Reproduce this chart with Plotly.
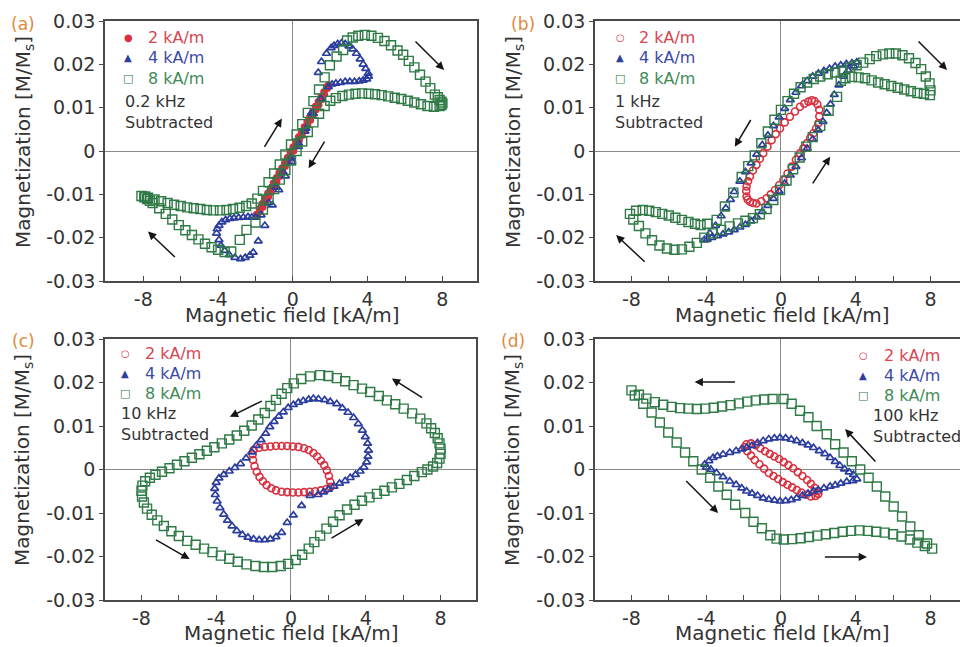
import plotly.graph_objects as go

# ---------------- data ----------------
# Panel (a) 0.2 kHz
A_RED_H = [-1.94,-1.8,-1.65,-1.5,-1.35,-1.2,-1.05,-0.9,-0.75,-0.6,-0.45,-0.3,-0.15,0,0.15,0.3,0.45,0.6,0.75,0.9,1.05,1.2,1.35,1.5,1.65,1.8,1.9,
           1.85,1.7,1.55,1.4,1.25,1.1,0.95,0.8,0.65,0.5,0.35,0.2,0.05,-0.1,-0.25,-0.4,-0.55,-0.7,-0.85,-1.0,-1.15,-1.3,-1.45,-1.6,-1.75,-1.9]
A_RED_M = [-0.0146,-0.0133,-0.0121,-0.0109,-0.0097,-0.0086,-0.0074,-0.0062,-0.005,-0.0039,-0.0027,-0.0015,-0.0003,0.0009,0.0021,0.0033,0.0044,0.0056,0.0068,0.0079,0.0091,0.0103,0.0114,0.0126,0.0137,0.0148,0.0153,
           0.0144,0.0131,0.0119,0.0107,0.0095,0.0083,0.0071,0.006,0.0048,0.0036,0.0024,0.0012,0.0,-0.0012,-0.0024,-0.0036,-0.0047,-0.0059,-0.0071,-0.0083,-0.0095,-0.0106,-0.0118,-0.013,-0.0141,-0.015]
A_BLUE_H = [-4.08,-3.95,-3.85,-3.65,-3.4,-3.1,-2.8,-2.55,-2.3,-2.12,-1.85,-1.5,-1.1,-0.75,-0.4,-0.05,0.3,0.65,1.0,1.36,1.53,1.8,2.05,2.2,2.4,2.6,2.8,3.0,3.2,3.4,3.6,3.76,3.9,4.03,4.05,
            3.95,3.76,3.55,3.3,3.05,2.8,2.55,2.3,2.1,1.9,1.5,1.1,0.7,0.3,-0.1,-0.5,-0.9,-1.3,-1.7,-2.0,-2.2,-2.4,-2.65,-2.9,-3.15,-3.37,-3.6,-3.8,-3.95,-4.05]
A_BLUE_M = [-0.019,-0.0205,-0.0218,-0.023,-0.024,-0.0246,-0.0249,-0.0246,-0.0241,-0.0234,-0.0208,-0.0172,-0.0125,-0.009,-0.0058,-0.0025,0.001,0.0045,0.0088,0.0181,0.0206,0.0225,0.0238,0.0243,0.0247,0.0249,0.0247,0.0242,0.0235,0.0225,0.0212,0.02,0.019,0.0179,0.0172,
            0.0166,0.0163,0.0161,0.016,0.016,0.016,0.0158,0.0156,0.0154,0.0148,0.012,0.0086,0.0052,0.0018,-0.0016,-0.005,-0.0084,-0.012,-0.0148,-0.0153,-0.0153,-0.0152,-0.0153,-0.0154,-0.0155,-0.0156,-0.0159,-0.0164,-0.0172,-0.018]
A_GREEN_H = [-8.1,-7.9,-7.75,-7.4,-7.05,-6.7,-6.35,-6.0,-5.65,-5.3,-4.95,-4.6,-4.25,-3.9,-3.55,-3.2,-2.85,-2.5,-2.2,
             -1.9,-1.6,-1.3,-1.0,-0.7,-0.4,-0.1,0.2,0.5,0.8,1.1,1.4,1.7,1.98,2.34,2.69,
             2.9,3.2,3.5,3.85,4.2,4.55,4.9,5.25,5.6,5.9,6.2,6.5,6.8,7.1,7.35,7.6,7.75,7.85,7.95,8.0,
             7.95,7.85,7.55,7.2,6.85,6.5,6.15,5.8,5.45,5.1,4.75,4.4,4.05,3.7,3.35,3.0,2.65,2.3,2.0,
             1.7,1.4,1.1,0.8,0.5,0.2,-0.1,-0.4,-0.7,-1.0,-1.3,-1.6,-2.0,-2.48,-2.84,
             -3.3,-3.65,-4.0,-4.35,-4.7,-5.05,-5.4,-5.75,-6.1,-6.45,-6.8,-7.15,-7.5,-7.65,-7.8,-7.95]
A_GREEN_M = [-0.0104,-0.0105,-0.0108,-0.0112,-0.0116,-0.012,-0.0124,-0.0127,-0.013,-0.0132,-0.0134,-0.0136,-0.0137,-0.0137,-0.0136,-0.0134,-0.0131,-0.0127,-0.0121,
             -0.011,-0.0092,-0.0072,-0.0052,-0.0031,-0.0008,0.0015,0.0038,0.0062,0.0088,0.0115,0.0142,0.017,0.0198,0.0218,0.0233,
             0.0255,0.0262,0.0266,0.0268,0.0266,0.0261,0.0254,0.0244,0.0232,0.0222,0.0208,0.0193,0.0176,0.016,0.0145,0.013,0.0124,0.0118,0.0114,0.011,
             0.0106,0.0104,0.0102,0.0104,0.0108,0.0112,0.0116,0.012,0.0123,0.0126,0.0129,0.0131,0.0132,0.0133,0.0132,0.013,0.0127,0.0122,0.0116,
             0.0104,0.0086,0.0066,0.0044,0.0022,0.0,-0.0022,-0.0044,-0.0066,-0.0088,-0.011,-0.0135,-0.0165,-0.0182,-0.0205,
             -0.0232,-0.0233,-0.0228,-0.0222,-0.0214,-0.0204,-0.0194,-0.0183,-0.0171,-0.0158,-0.0145,-0.0132,-0.012,-0.0115,-0.0111,-0.0107]

# Panel (b) 1 kHz
B_RED_H = [-1.84,-1.86,-1.84,-1.76,-1.66,-1.5,-1.31,-1.13,-0.95,-0.72,-0.5,-0.28,-0.05,0.2,0.48,0.75,1.02,1.25,1.47,1.65,1.8,
           1.95,2.05,2.05,2.0,1.88,1.74,1.56,1.38,1.2,1.02,0.8,0.57,0.35,0.13,-0.1,-0.32,-0.55,-0.77,-1.05,-1.31,-1.5,-1.66,-1.78]
B_RED_M = [-0.0105,-0.0092,-0.0082,-0.007,-0.0059,-0.0045,-0.0032,-0.0018,-0.0005,0.001,0.0025,0.0039,0.0052,0.0066,0.0079,0.0091,0.0102,0.0109,0.0114,0.0117,0.0115,
           0.0108,0.0095,0.008,0.0064,0.0052,0.0041,0.003,0.0018,0.0006,-0.0005,-0.002,-0.0036,-0.0052,-0.0067,-0.0079,-0.009,-0.01,-0.0109,-0.0116,-0.0121,-0.012,-0.0117,-0.0112]
B_BLUE_H = [-4.1,-3.8,-3.5,-3.2,-2.95,-2.7,-2.5,-2.2,-1.9,-1.6,-1.3,-1.0,-0.7,-0.4,-0.1,0.2,0.5,0.8,1.1,1.4,1.7,2.0,2.3,2.6,2.9,3.2,3.5,3.8,4.06,
            3.9,3.6,3.35,3.1,2.85,2.65,2.45,2.25,2.0,1.7,1.4,1.1,0.8,0.5,0.2,-0.1,-0.4,-0.7,-1.0,-1.3,-1.6,-1.9,-2.2,-2.5,-2.8,-3.1,-3.4,-3.7,-3.95]
B_BLUE_M = [-0.0205,-0.019,-0.0172,-0.015,-0.0132,-0.0112,-0.0094,-0.007,-0.0048,-0.0028,-0.0008,0.0014,0.0036,0.0058,0.0078,0.0098,0.0118,0.0135,0.015,0.0162,0.0172,0.0179,0.0185,0.019,0.0195,0.0198,0.0201,0.0203,0.0205,
            0.0196,0.0186,0.0172,0.0152,0.013,0.0108,0.0088,0.0068,0.0048,0.0027,0.0006,-0.0016,-0.0036,-0.0056,-0.0075,-0.0093,-0.011,-0.0126,-0.014,-0.0152,-0.0162,-0.017,-0.0176,-0.0182,-0.0187,-0.0192,-0.0196,-0.02,-0.0204]
B_GREEN_H = [-8.08,-7.75,-7.4,-7.05,-6.7,-6.35,-6.0,-5.65,-5.3,-4.95,-4.6,-4.3,-3.95,-3.44,-3.0,-2.55,-2.1,-1.75,-1.4,-1.05,-0.7,-0.35,0.0,0.35,0.7,1.05,1.4,1.75,2.1,2.5,2.9,3.3,3.7,4.05,4.4,4.75,5.1,5.45,5.8,6.15,6.5,6.85,7.2,7.5,7.75,7.95,8.0,7.97,
             7.65,7.3,6.95,6.6,6.25,5.9,5.55,5.2,4.85,4.5,4.15,3.8,3.45,3.2,3.0,2.55,2.1,1.7,1.35,1.0,0.65,0.3,-0.05,-0.41,-0.77,-1.13,-1.5,-1.9,-2.3,-2.75,-3.2,-3.65,-4.1,-4.5,-4.9,-5.3,-5.7,-6.1,-6.5,-6.9,-7.25,-7.6,-7.9]
B_GREEN_M = [-0.0145,-0.0138,-0.0136,-0.0138,-0.0141,-0.0145,-0.0149,-0.0154,-0.0159,-0.0164,-0.0168,-0.0171,-0.0168,-0.0159,-0.0128,-0.0096,-0.006,-0.0035,-0.001,0.0018,0.0045,0.0072,0.0095,0.0115,0.0132,0.0147,0.0158,0.0166,0.0172,0.0177,0.0181,0.0186,0.0192,0.0198,0.0204,0.0212,0.0219,0.0223,0.0225,0.0225,0.0221,0.0214,0.0203,0.0189,0.0172,0.0156,0.014,0.0129,
             0.0132,0.0134,0.0138,0.0142,0.0146,0.015,0.0154,0.0158,0.0163,0.0168,0.017,0.0171,0.0168,0.0162,0.0125,0.0093,0.0058,0.0032,0.001,-0.0015,-0.0042,-0.0068,-0.009,-0.0113,-0.0134,-0.0146,-0.0155,-0.0161,-0.0167,-0.0174,-0.0182,-0.019,-0.02,-0.0212,-0.0221,-0.0227,-0.0228,-0.0225,-0.0218,-0.0206,-0.019,-0.0173,-0.0158]

# Panel (c) 10 kHz
C_RED_H = [-2.0,-1.7,-1.4,-1.1,-0.8,-0.5,-0.2,0.1,0.4,0.7,0.95,1.2,1.4,1.6,1.78,1.92,2.03,2.1,2.12,
           1.9,1.6,1.3,1.0,0.7,0.4,0.1,-0.2,-0.5,-0.8,-1.05,-1.3,-1.5,-1.68,-1.83,-1.95,-2.03,-2.05]
C_RED_M = [0.0045,0.005,0.0052,0.0053,0.0054,0.0054,0.0054,0.0053,0.0052,0.0049,0.0045,0.0038,0.003,0.002,0.001,-0.0002,-0.0015,-0.0028,-0.004,
           -0.0045,-0.0048,-0.005,-0.0051,-0.0052,-0.0053,-0.0053,-0.0052,-0.0051,-0.0048,-0.0043,-0.0036,-0.0027,-0.0017,-0.0005,0.0008,0.0022,0.0035]
C_BLUE_H = [1.47,1.8,2.1,2.45,2.75,3.05,3.35,3.6,3.82,3.98,4.1,4.15,4.12,4.05,3.9,3.7,3.45,3.17,2.9,2.6,2.3,2.0,1.74,1.45,1.02,0.57,0.13,-0.2,-0.5,
            -0.8,-1.1,-1.4,-1.7,-2.0,-2.3,-2.6,-2.9,-3.15,-3.4,-3.6,-3.8,-3.95,-4.05,-4.08,-4.0,-3.85,-3.6,-3.3,-3.0,-2.7,-2.4,-2.1,-1.85,-1.6,-1.35,-1.13,-0.9,-0.65,-0.41,-0.15,0.13,0.4,0.66,0.95,1.2]
C_BLUE_M = [0.0162,0.016,0.0156,0.0151,0.0141,0.0131,0.0119,0.0105,0.009,0.0075,0.006,0.0044,0.003,0.0017,0.0005,-0.0004,-0.0012,-0.0019,-0.0026,-0.0032,-0.0039,-0.0046,-0.0052,-0.0058,-0.006,-0.0083,-0.0105,-0.0122,-0.0145,
            -0.0155,-0.016,-0.0162,-0.0162,-0.016,-0.0156,-0.015,-0.0141,-0.013,-0.0117,-0.0103,-0.0088,-0.0073,-0.0058,-0.0044,-0.003,-0.002,-0.0012,-0.0004,0.0004,0.0013,0.0026,0.004,0.0055,0.0068,0.0083,0.0098,0.011,0.0122,0.0132,0.0142,0.0149,0.0154,0.0158,0.0161,0.0163]
C_GREEN_H = [1.02,1.56,2.0,2.45,2.9,3.35,3.8,4.24,4.7,5.13,5.58,6.03,6.48,6.92,7.25,7.5,7.7,7.85,7.95,8.0,8.0,7.95,7.82,7.6,7.3,7.0,6.6,6.2,5.8,5.4,5.0,4.6,4.2,3.8,3.4,3.0,2.6,2.25,1.9,1.56,1.25,0.95,0.6,0.25,
             -0.15,-0.55,-1.0,-1.45,-1.9,-2.38,-2.85,-3.3,-3.75,-4.2,-4.65,-5.1,-5.55,-6.0,-6.4,-6.8,-7.15,-7.45,-7.7,-7.87,-7.97,-8.0,-7.95,-7.8,-7.55,-7.25,-6.9,-6.5,-6.1,-5.7,-5.3,-4.9,-4.5,-4.1,-3.7,-3.3,-2.9,-2.5,-2.1,-1.75,-1.4,-1.1,-0.8,-0.5,-0.2,0.15,0.55]
C_GREEN_M = [0.0214,0.0217,0.0215,0.021,0.0203,0.0194,0.0186,0.0178,0.0169,0.0159,0.015,0.014,0.0129,0.0117,0.0106,0.0095,0.0084,0.0072,0.006,0.0048,0.0036,0.0025,0.0015,0.0007,0.0,-0.0006,-0.0015,-0.0024,-0.0033,-0.0041,-0.0049,-0.0056,-0.0064,-0.0072,-0.0081,-0.0092,-0.0105,-0.012,-0.0136,-0.0152,-0.0167,-0.0182,-0.0196,-0.0208,
             -0.0217,-0.0222,-0.0224,-0.0224,-0.0222,-0.0218,-0.0212,-0.0205,-0.0198,-0.019,-0.0182,-0.0173,-0.0164,-0.0153,-0.0142,-0.013,-0.0117,-0.0104,-0.009,-0.0076,-0.0062,-0.0049,-0.0037,-0.0027,-0.0019,-0.0012,-0.0005,0.0003,0.0011,0.0019,0.0027,0.0035,0.0043,0.0051,0.006,0.0069,0.0078,0.0089,0.0101,0.0115,0.013,0.0146,0.016,0.0174,0.0187,0.0198,0.0208]

# Panel (d) 100 kHz
D_RED_H = [-1.85,-1.6,-1.35,-1.1,-0.85,-0.6,-0.35,-0.1,0.15,0.4,0.65,0.9,1.15,1.4,1.6,1.8,1.95,2.0,
           1.85,1.6,1.35,1.1,0.85,0.6,0.35,0.1,-0.15,-0.4,-0.65,-0.9,-1.15,-1.4,-1.6,-1.8,-1.95]
D_RED_M = [0.0058,0.006,0.0056,0.0049,0.0042,0.0036,0.003,0.0024,0.0017,0.001,0.0003,-0.0006,-0.0015,-0.0024,-0.0033,-0.0042,-0.005,-0.0056,
           -0.0061,-0.0062,-0.0058,-0.0053,-0.0047,-0.0041,-0.0035,-0.0029,-0.0022,-0.0015,-0.0008,0.0002,0.0012,0.0022,0.0032,0.0042,0.0051]
D_BLUE_H = [-4.08,-3.85,-3.63,-3.4,-3.1,-2.74,-2.4,-2.1,-1.84,-1.55,-1.25,-0.95,-0.65,-0.35,-0.05,0.25,0.55,0.84,1.15,1.45,1.74,2.05,2.35,2.63,2.9,3.15,3.4,3.65,3.88,4.06,
            3.85,3.52,3.2,2.9,2.63,2.3,2.0,1.74,1.45,1.15,0.84,0.55,0.25,-0.05,-0.35,-0.65,-0.95,-1.25,-1.55,-1.84,-2.1,-2.4,-2.74,-3.1,-3.45,-3.75,-3.99]
D_BLUE_M = [0.0012,0.002,0.0027,0.0031,0.0035,0.0039,0.0043,0.0047,0.005,0.0055,0.0061,0.0066,0.007,0.0072,0.0073,0.0072,0.0069,0.0066,0.0061,0.0056,0.005,0.0043,0.0036,0.0027,0.0018,0.0009,0.0001,-0.0006,-0.0012,-0.0022,
            -0.0026,-0.0028,-0.0032,-0.0036,-0.0039,-0.0043,-0.0047,-0.005,-0.0055,-0.006,-0.0066,-0.007,-0.0072,-0.0073,-0.0071,-0.0069,-0.0066,-0.006,-0.0055,-0.005,-0.0043,-0.0035,-0.0027,-0.0017,-0.0008,0.0,0.0005]
D_GREEN_H = [-8.0,-7.6,-7.2,-6.75,-6.3,-5.85,-5.4,-4.95,-4.5,-4.05,-3.6,-3.15,-2.7,-2.25,-1.8,-1.35,-0.9,-0.45,0.13,0.57,1.02,1.47,1.91,2.45,2.9,3.35,3.79,4.24,4.69,5.13,5.58,6.03,6.48,6.92,7.37,7.82,8.09,
             7.7,7.3,6.9,6.45,6.0,5.55,5.1,4.65,4.2,3.75,3.3,2.85,2.4,1.95,1.5,1.05,0.6,0.15,-0.23,-0.57,-1.02,-1.47,-1.91,-2.45,-2.9,-3.35,-3.79,-4.24,-4.69,-5.13,-5.58,-6.03,-6.48,-6.92,-7.37,-7.82]
D_GREEN_M = [0.0182,0.0172,0.0163,0.0155,0.0149,0.0144,0.0141,0.014,0.0139,0.014,0.0142,0.0145,0.0148,0.0152,0.0156,0.0159,0.0161,0.0162,0.0162,0.0151,0.0135,0.012,0.01,0.0081,0.0058,0.0039,0.0019,0.0,-0.0019,-0.0039,-0.0062,-0.0085,-0.0108,-0.0131,-0.0151,-0.017,-0.0182,
             -0.0176,-0.0168,-0.0161,-0.0154,-0.0149,-0.0145,-0.0143,-0.0141,-0.014,-0.0141,-0.0143,-0.0146,-0.0149,-0.0152,-0.0155,-0.0158,-0.016,-0.0161,-0.0159,-0.0151,-0.0135,-0.012,-0.01,-0.0081,-0.0058,-0.0039,-0.0019,0.0,0.0019,0.0039,0.0062,0.0085,0.0108,0.0131,0.0151,0.017]

SERIES_NAMES = ["2 kA/m", "4 kA/m", "8 kA/m"]
FREQ_LABELS = ["0.2 kHz", "1 kHz", "10 kHz", "100 kHz"]
PANEL_LABELS = ["(a)", "(b)", "(c)", "(d)"]
X_TICKVALS = [-8, -6, -4, -2, 0, 2, 4, 6, 8]
X_TICKTEXT = ["-8", "", "-4", "", "0", "", "4", "", "8"]
Y_TICKVALS = [-0.03, -0.02, -0.01, 0, 0.01, 0.02, 0.03]
Y_TICKTEXT = ["-0.03", "-0.02", "-0.01", "0", "0.01", "0.02", "0.03"]

# ---------------- styling ----------------
W, H = 960, 647
RED, BLUE, GREEN = "#d8303f", "#2b3d9e", "#2f7a46"
TXT_RED, TXT_BLUE, TXT_GREEN = "#d84452", "#3b4aa6", "#3f8a58"
AX = "#4a4a4a"
FONT = "DejaVu Sans"


def px(x):
    return x / W


def py(y):
    return 1 - y / H


fig = go.Figure()

panel_data = [
    [(A_RED_H, A_RED_M), (A_BLUE_H, A_BLUE_M), (A_GREEN_H, A_GREEN_M)],
    [(B_RED_H, B_RED_M), (B_BLUE_H, B_BLUE_M), (B_GREEN_H, B_GREEN_M)],
    [(C_RED_H, C_RED_M), (C_BLUE_H, C_BLUE_M), (C_GREEN_H, C_GREEN_M)],
    [(D_RED_H, D_RED_M), (D_BLUE_H, D_BLUE_M), (D_GREEN_H, D_GREEN_M)],
]

axis_ids = ["", "2", "3", "4"]
txt_cols = [TXT_RED, TXT_BLUE, TXT_GREEN]
mk_cols = [RED, BLUE, GREEN]

for p, series in enumerate(panel_data):
    aid = axis_ids[p]
    for s, (hx, my) in enumerate(series):
        if s == 0:
            if p == 0:
                mk = dict(symbol="circle", size=7, color=RED, line=dict(width=0))
            else:
                mk = dict(symbol="circle-open", size=7, color=RED, line=dict(width=1.6))
        elif s == 1:
            mk = dict(symbol="triangle-up-open", size=7, color=BLUE, line=dict(width=1.7))
        else:
            mk = dict(symbol="square-open", size=9, color=GREEN, line=dict(width=1.4))
        fig.add_trace(go.Scatter(
            x=hx, y=my, mode="markers", marker=mk,
            xaxis="x" + aid, yaxis="y" + aid,
            name=SERIES_NAMES[s], showlegend=False, hoverinfo="skip",
        ))

# panel geometry (pixels)
geo = [
    dict(x0=105, x1=477, y0=21, y1=281, xr=[-10.05, 9.85]),
    dict(x0=595, x1=960, y0=21, y1=281, xr=[-9.95, 9.58]),
    dict(x0=105, x1=476, y0=339, y1=600, xr=[-9.95, 9.9]),
    dict(x0=595, x1=960, y0=339, y1=600, xr=[-9.95, 9.58]),
]

tickfont = dict(family=FONT, size=19, color="#333")
layout_axes = {}
for p, g in enumerate(geo):
    aid = axis_ids[p]
    layout_axes["xaxis" + aid] = dict(
        domain=[px(g["x0"]), px(g["x1"])], range=g["xr"], anchor="y" + aid,
        tickmode="array", tickvals=X_TICKVALS, ticktext=X_TICKTEXT,
        ticks="inside", ticklen=5, tickwidth=1.2, tickcolor=AX,
        showline=True, linecolor=AX, linewidth=1.6, mirror=True,
        showgrid=False, zeroline=True, zerolinecolor="#8a8a8a", zerolinewidth=1.2,
        tickfont=tickfont, fixedrange=True, automargin=False,
    )
    layout_axes["yaxis" + aid] = dict(
        domain=[py(g["y1"]), py(g["y0"])], range=[-0.03, 0.03], anchor="x" + aid,
        tickmode="array", tickvals=Y_TICKVALS, ticktext=Y_TICKTEXT,
        ticks="outside", ticklen=4, tickwidth=1.2, tickcolor=AX,
        showline=True, linecolor=AX, linewidth=1.6, mirror=(p in (0, 2)),
        showgrid=False, zeroline=True, zerolinecolor="#8a8a8a", zerolinewidth=1.2,
        tickfont=tickfont, fixedrange=True, automargin=False,
    )

annotations = []
# panel labels
lab_pos = [(23, 24), (523, 24), (23, 341), (513, 341)]
for p, (lx, ly) in enumerate(lab_pos):
    annotations.append(dict(text=PANEL_LABELS[p], x=px(lx), y=py(ly), xref="paper", yref="paper",
                            showarrow=False, xanchor="center", yanchor="middle",
                            font=dict(family=FONT, size=17, color="#e08a3c")))

# legends built from text: (symbol x, text x, first row y)
leg_pos = [(128, 146, 38), (620, 637, 38), (125, 143, 353), (863, 882, 355)]
for p, (sx, tx, ry) in enumerate(leg_pos):
    syms = ["\u25cf" if p == 0 else "\u25cb", "\u25b2", "\u25a1"]
    for s in range(3):
        yy = ry + 20 * s
        annotations.append(dict(text=syms[s], x=px(sx), y=py(yy), xref="paper", yref="paper",
                                showarrow=False, xanchor="center", yanchor="middle",
                                font=dict(family=FONT, size=10 if s != 2 else 11, color=mk_cols[s])))
        annotations.append(dict(text=SERIES_NAMES[s], x=px(tx), y=py(yy), xref="paper", yref="paper",
                                showarrow=False, xanchor="left", yanchor="middle",
                                font=dict(family=FONT, size=16, color=txt_cols[s])))

# frequency / subtracted notes
note_pos = [(123, 90), (613, 90), (119, 402), (871, 404)]
for p, (nx, ny) in enumerate(note_pos):
    annotations.append(dict(text=FREQ_LABELS[p] + "<br>Subtracted", x=px(nx), y=py(ny),
                            xref="paper", yref="paper", showarrow=False, align="left",
                            xanchor="left", yanchor="top",
                            font=dict(family=FONT, size=16, color="#333")))
# axis titles
xt_pos = [(292, 315), (782, 315), (291, 633), (782, 633)]
yt_pos = [(24, 142), (514, 142), (23, 460), (513, 460)]
for p in range(4):
    annotations.append(dict(text="Magnetic field [kA/m]", x=px(xt_pos[p][0]), y=py(xt_pos[p][1]),
                            xref="paper", yref="paper", showarrow=False,
                            xanchor="center", yanchor="middle",
                            font=dict(family=FONT, size=20, color="#333")))
    annotations.append(dict(text="Magnetization [M/M<sub>s</sub>]", x=px(yt_pos[p][0]), y=py(yt_pos[p][1]),
                            xref="paper", yref="paper", showarrow=False, textangle=-90,
                            xanchor="center", yanchor="middle",
                            font=dict(family=FONT, size=20, color="#333")))

# arrows: (tail_x, tail_y, head_x, head_y) in data units
ARROWS = [
    [(6.48, 0.0256, 8.09, 0.0187), (-1.57, 0.0006, -0.59, 0.0075), (1.74, 0.0025, 0.84, -0.004), (-6.23, -0.0248, -7.75, -0.0186)],
    [(7.28, 0.0256, 8.89, 0.0187), (-1.57, 0.0075, -2.47, 0.001), (1.65, -0.0078, 2.63, -0.0013), (-7.21, -0.0259, -8.82, -0.0194)],
    [(7.1, 0.0163, 5.4, 0.0209), (-1.48, 0.0159, -3.27, 0.0121), (-7.3, -0.016, -5.42, -0.0206), (2.09, -0.016, 3.88, -0.0114)],
    [(-2.38, 0.0201, -4.62, 0.0201), (5.13, 0.0015, 3.43, 0.0093), (-5.15, -0.0023, -3.36, -0.01), (2.27, -0.0201, 4.6, -0.0201)],
]
for p, arr in enumerate(ARROWS):
    aid = axis_ids[p]
    for (tx, ty, hx, hy) in arr:
        annotations.append(dict(x=hx, y=hy, ax=tx, ay=ty, xref="x" + aid, yref="y" + aid,
                                axref="x" + aid, ayref="y" + aid, text="", showarrow=True,
                                arrowhead=2, arrowsize=1.1, arrowwidth=1.5, arrowcolor="#151515",
                                standoff=0, startstandoff=0))

fig.update_layout(
    width=W, height=H, margin=dict(l=0, r=0, t=0, b=0, autoexpand=False),
    paper_bgcolor="white", plot_bgcolor="white",
    font=dict(family=FONT, color="#333"),
    annotations=annotations, showlegend=False,
    **layout_axes,
)

fig.write_html("out.html")
